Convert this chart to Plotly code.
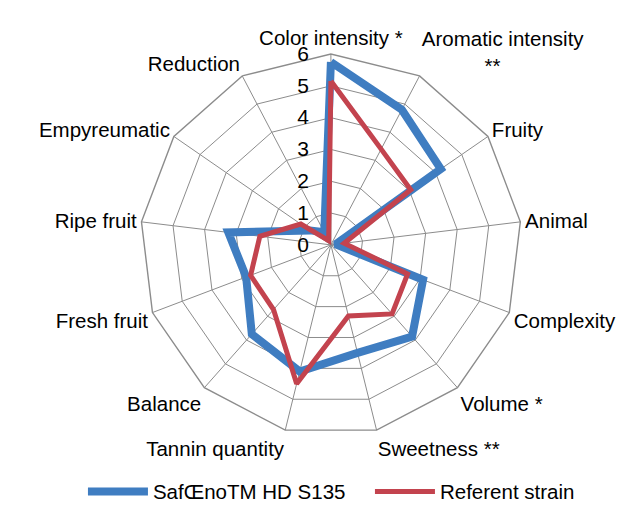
import plotly.graph_objects as go

# sensory attributes, clockwise from the top
attributes = [
    "Color intensity *",
    "Aromatic intensity<br>" + "\u00a0" * 11 + "**",
    "Fruity", "Animal", "Complexity", "Volume *", "Sweetness **",
    "Tannin quantity", "Balance", "Fresh fruit", "Ripe fruit",
    "Empyreumatic", "Reduction",
]

# mean panel scores (0-6)
saf_s135 = [5.75, 4.8, 4.2, 0.15, 3.1, 3.85, 3.5, 4.1, 3.75, 2.85, 3.25, 0.8, 0.45]
referent = [5.15, 3.4, 3.05, 0.42, 2.58, 2.9, 2.3, 4.5, 2.72, 2.7, 2.25, 1.15, 0.15]

radial_ticks = [0, 1, 2, 3, 4, 5, 6]

BLUE = "#3F7DC1"
RED = "#C3434E"
GRID = "#8C8C8C"


def closed(vals):
    return vals + vals[:1]


fig = go.Figure()
fig.add_trace(go.Scatterpolar(
    r=closed(saf_s135), theta=closed(attributes),
    mode="lines", name="SafŒnoTM HD S135",
    line=dict(color=BLUE, width=8),
))
fig.add_trace(go.Scatterpolar(
    r=closed(referent), theta=closed(attributes),
    mode="lines", name="Referent strain",
    line=dict(color=RED, width=5),
))

fig.update_layout(
    width=635, height=520,
    margin=dict(l=0, r=0, t=0, b=0, autoexpand=False),
    paper_bgcolor="white",
    font=dict(family="Liberation Sans, Arial, sans-serif", size=20, color="black"),
    polar=dict(
        domain=dict(x=[0.208, 0.809], y=[0.177, 0.912]),
        bgcolor="white",
        gridshape="linear",
        angularaxis=dict(
            rotation=90, direction="clockwise",
            showline=True, linecolor=GRID, linewidth=1.4,
            gridcolor=GRID, gridwidth=1.4,
            ticks="",
            tickfont=dict(size=20.5),
        ),
        radialaxis=dict(
            range=[0, 6], tickvals=radial_ticks,
            angle=90, side="counterclockwise", tickangle=90,
            showline=False, gridcolor=GRID, gridwidth=1.4,
            ticks="outside", ticklen=14, tickcolor="rgba(0,0,0,0)",
            tickfont=dict(size=21),
        ),
    ),
    legend=dict(
        orientation="h", x=0.570, xanchor="center", y=0.07, yanchor="middle",
        font=dict(size=20.5), itemwidth=60, entrywidth=212,
    ),
)

fig.write_html("out.html")
